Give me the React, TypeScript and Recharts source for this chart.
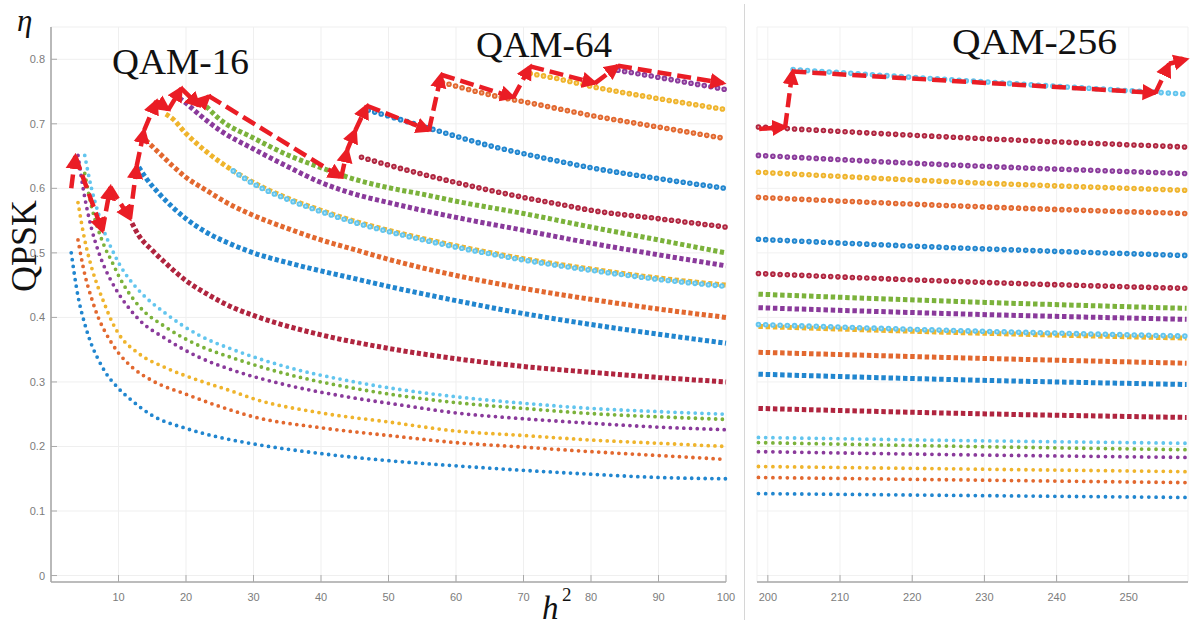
import { LineChart, Line, XAxis, YAxis, CartesianGrid } from 'recharts'

type Pt = [number, number]

// ---- left panel, h² from 0 to 100 ----
// QPSK ('*' markers)
const qpskBlue: Pt[] = [[3, 0.5], [4, 0.433], [5, 0.39], [6, 0.358], [7, 0.335], [8, 0.316], [10, 0.29], [12, 0.271], [15, 0.248], [20, 0.228], [25, 0.214], [30, 0.204], [40, 0.189], [50, 0.178], [60, 0.17], [70, 0.163], [80, 0.157], [90, 0.152], [100, 0.15]]
const qpskOrange: Pt[] = [[4, 0.52], [5, 0.467], [6, 0.43], [7, 0.4], [8, 0.378], [9, 0.36], [10, 0.345], [12, 0.323], [15, 0.302], [20, 0.281], [25, 0.262], [30, 0.246], [40, 0.229], [50, 0.217], [60, 0.206], [70, 0.199], [80, 0.192], [90, 0.186], [100, 0.18]]
const qpskYellow: Pt[] = [[4, 0.578], [5, 0.52], [6, 0.478], [7, 0.446], [8, 0.419], [9, 0.394], [10, 0.375], [13, 0.344], [17, 0.322], [22, 0.302], [27, 0.285], [30, 0.274], [40, 0.252], [50, 0.238], [60, 0.224], [70, 0.217], [80, 0.21], [90, 0.205], [100, 0.2]]
const qpskPurple: Pt[] = [[4, 0.651], [5, 0.586], [6, 0.538], [7, 0.503], [8, 0.476], [9, 0.455], [10, 0.437], [11, 0.422], [13, 0.397], [17, 0.367], [22, 0.338], [27, 0.318], [35, 0.295], [45, 0.275], [52, 0.264], [60, 0.252], [70, 0.243], [80, 0.236], [90, 0.23], [100, 0.226]]
const qpskGreen: Pt[] = [[5, 0.623], [6, 0.572], [7, 0.536], [8, 0.508], [9, 0.487], [10, 0.465], [13, 0.418], [17, 0.385], [22, 0.356], [27, 0.337], [35, 0.312], [45, 0.29], [60, 0.268], [70, 0.259], [80, 0.251], [90, 0.246], [100, 0.242]]
const qpskCyan: Pt[] = [[5, 0.651], [6, 0.6], [7, 0.562], [8, 0.53], [9, 0.506], [10, 0.485], [11, 0.468], [13, 0.442], [17, 0.406], [22, 0.372], [27, 0.35], [35, 0.323], [45, 0.3], [60, 0.277], [70, 0.267], [80, 0.259], [90, 0.254], [100, 0.25]]

// QAM-16 (triangles)
const q16Crimson: Pt[] = [[12, 0.546], [13, 0.527], [15, 0.504], [17, 0.484], [20, 0.457], [23, 0.437], [27, 0.415], [30, 0.403], [40, 0.373], [50, 0.352], [60, 0.336], [70, 0.324], [80, 0.315], [90, 0.307], [100, 0.3]]
const q16Blue: Pt[] = [[13, 0.633], [14, 0.617], [16, 0.592], [18, 0.571], [20, 0.553], [23, 0.532], [27, 0.512], [30, 0.5], [35, 0.485], [40, 0.472], [45, 0.46], [50, 0.448], [60, 0.426], [70, 0.406], [80, 0.389], [90, 0.374], [100, 0.36]]
const q16Orange: Pt[] = [[14, 0.675], [16, 0.655], [18, 0.635], [20, 0.617], [23, 0.597], [26, 0.578], [30, 0.558], [35, 0.538], [40, 0.52], [45, 0.505], [50, 0.49], [60, 0.465], [70, 0.445], [80, 0.428], [90, 0.413], [100, 0.4]]
const q16Yellow: Pt[] = [[17, 0.715], [18, 0.708], [20, 0.685], [23, 0.657], [26, 0.634], [30, 0.609], [35, 0.585], [40, 0.566], [45, 0.549], [50, 0.535], [60, 0.511], [70, 0.491], [80, 0.475], [90, 0.461], [100, 0.45]]
const q16Purple: Pt[] = [[19, 0.74], [20, 0.732], [22, 0.714], [25, 0.69], [30, 0.661], [35, 0.634], [40, 0.609], [45, 0.591], [50, 0.578], [55, 0.566], [60, 0.555], [70, 0.535], [80, 0.515], [90, 0.497], [100, 0.48]]
const q16Green: Pt[] = [[23, 0.727], [25, 0.707], [30, 0.678], [35, 0.652], [40, 0.632], [45, 0.614], [50, 0.601], [55, 0.591], [60, 0.58], [70, 0.561], [80, 0.54], [90, 0.52], [100, 0.5]]

// QAM-64 (circles)
const q64Cyan: Pt[] = [[27, 0.627], [30, 0.607], [35, 0.583], [40, 0.564], [45, 0.547], [50, 0.533], [60, 0.509], [70, 0.489], [80, 0.473], [90, 0.459], [100, 0.448]]
const q64Crimson: Pt[] = [[46, 0.648], [50, 0.636], [55, 0.622], [60, 0.609], [65, 0.597], [70, 0.586], [75, 0.576], [80, 0.566], [90, 0.553], [100, 0.54]]
const q64Blue: Pt[] = [[47, 0.721], [50, 0.712], [57, 0.69], [65, 0.666], [73, 0.647], [80, 0.632], [90, 0.615], [100, 0.6]]
const q64Orange: Pt[] = [[58, 0.764], [65, 0.745], [73, 0.728], [80, 0.713], [90, 0.695], [100, 0.677]]
const q64Yellow: Pt[] = [[71, 0.778], [75, 0.77], [80, 0.758], [90, 0.739], [100, 0.722]]
const q64Purple: Pt[] = [[84, 0.783], [90, 0.772], [100, 0.753]]

// best-scheme path (red dashed arrows)
const redLeft: Pt[] = [[3.0, 0.6], [3.6, 0.65], [7.6, 0.534], [8.8, 0.602], [11.7, 0.553], [12.7, 0.635], [13.8, 0.69], [15.6, 0.735], [17.4, 0.722], [19.3, 0.755], [21.9, 0.728], [23.4, 0.743], [43.0, 0.617], [43.9, 0.66], [45.1, 0.69], [46.8, 0.728], [56.0, 0.69], [57.8, 0.776], [68.5, 0.741], [71.0, 0.789], [80.6, 0.763], [84.0, 0.79], [99.6, 0.763]]

// ---- right panel, h² from 198.5 to 258 ----
const r256Blue: Pt[] = [[203.5, 0.784], [230, 0.765], [258, 0.746]]
const r256Orange: Pt[] = [[257.3, 0.8], [258, 0.8]]
const rQ64Crimson2: Pt[] = [[198.7, 0.695], [228, 0.678], [258, 0.664]]
const rQ64Purple: Pt[] = [[198.7, 0.651], [228, 0.635], [258, 0.623]]
const rQ64Yellow: Pt[] = [[198.7, 0.625], [228, 0.609], [258, 0.597]]
const rQ64Orange: Pt[] = [[198.7, 0.586], [228, 0.572], [258, 0.561]]
const rQ64Blue: Pt[] = [[198.7, 0.521], [228, 0.507], [258, 0.496]]
const rQ64Crimson: Pt[] = [[198.7, 0.468], [228, 0.455], [258, 0.445]]
const rQ16Green: Pt[] = [[198.7, 0.436], [228, 0.424], [258, 0.414]]
const rQ16Purple: Pt[] = [[198.7, 0.415], [228, 0.405], [258, 0.397]]
const rQ16Yellow: Pt[] = [[198.7, 0.386], [228, 0.376], [258, 0.368]]
const rQ64Cyan: Pt[] = [[198.7, 0.389], [228, 0.379], [258, 0.371]]
const rQ16Orange: Pt[] = [[198.7, 0.346], [228, 0.337], [258, 0.329]]
const rQ16Blue: Pt[] = [[198.7, 0.312], [228, 0.303], [258, 0.296]]
const rQ16Crimson: Pt[] = [[198.7, 0.259], [228, 0.251], [258, 0.245]]
const rQpskCyan: Pt[] = [[198.7, 0.214], [228, 0.209], [258, 0.205]]
const rQpskGreen: Pt[] = [[198.7, 0.206], [228, 0.2], [258, 0.195]]
const rQpskPurple: Pt[] = [[198.7, 0.192], [228, 0.187], [258, 0.183]]
const rQpskYellow: Pt[] = [[198.7, 0.169], [228, 0.165], [258, 0.161]]
const rQpskOrange: Pt[] = [[198.7, 0.152], [228, 0.148], [258, 0.144]]
const rQpskBlue: Pt[] = [[198.7, 0.127], [228, 0.124], [258, 0.121]]

const redRight: Pt[] = [[198.8, 0.692], [202.4, 0.695], [203.4, 0.781], [253.7, 0.748], [255.6, 0.793], [258.0, 0.8]]

// axes
const yTicks = [0, 0.1, 0.2, 0.3, 0.4, 0.5, 0.6, 0.7, 0.8]
const leftXTicks = [10, 20, 30, 40, 50, 60, 70, 80, 90, 100]
const leftTopTicks = [10, 20, 30, 40, 50, 60, 70, 80, 90]
const rightXTicks = [200, 210, 220, 230, 240, 250]

const C = {
  blue: '#2186cf',
  orange: '#e2682f',
  yellow: '#efb42c',
  purple: '#8a3a9b',
  green: '#7bb23b',
  cyan: '#62c5ee',
  crimson: '#b0253f',
  red: '#ea1d25',
}

type Kind = 'star' | 'tri' | 'circ'
type Series = { d: Pt[]; c: string; k: Kind }

const leftSeries: Series[] = [
  { d: qpskBlue, c: C.blue, k: 'star' },
  { d: qpskOrange, c: C.orange, k: 'star' },
  { d: qpskYellow, c: C.yellow, k: 'star' },
  { d: qpskPurple, c: C.purple, k: 'star' },
  { d: qpskGreen, c: C.green, k: 'star' },
  { d: qpskCyan, c: C.cyan, k: 'star' },
  { d: q16Crimson, c: C.crimson, k: 'tri' },
  { d: q16Blue, c: C.blue, k: 'tri' },
  { d: q16Orange, c: C.orange, k: 'tri' },
  { d: q16Yellow, c: C.yellow, k: 'tri' },
  { d: q16Purple, c: C.purple, k: 'tri' },
  { d: q16Green, c: C.green, k: 'tri' },
  { d: q64Cyan, c: C.cyan, k: 'circ' },
  { d: q64Crimson, c: C.crimson, k: 'circ' },
  { d: q64Blue, c: C.blue, k: 'circ' },
  { d: q64Orange, c: C.orange, k: 'circ' },
  { d: q64Yellow, c: C.yellow, k: 'circ' },
  { d: q64Purple, c: C.purple, k: 'circ' },
]

const rightSeries: Series[] = [
  { d: rQpskBlue, c: C.blue, k: 'star' },
  { d: rQpskOrange, c: C.orange, k: 'star' },
  { d: rQpskYellow, c: C.yellow, k: 'star' },
  { d: rQpskPurple, c: C.purple, k: 'star' },
  { d: rQpskGreen, c: C.green, k: 'star' },
  { d: rQpskCyan, c: C.cyan, k: 'star' },
  { d: rQ16Crimson, c: C.crimson, k: 'tri' },
  { d: rQ16Blue, c: C.blue, k: 'tri' },
  { d: rQ16Orange, c: C.orange, k: 'tri' },
  { d: rQ16Yellow, c: C.yellow, k: 'tri' },
  { d: rQ16Purple, c: C.purple, k: 'tri' },
  { d: rQ16Green, c: C.green, k: 'tri' },
  { d: rQ64Cyan, c: C.cyan, k: 'circ' },
  { d: rQ64Crimson, c: C.crimson, k: 'circ' },
  { d: rQ64Blue, c: C.blue, k: 'circ' },
  { d: rQ64Orange, c: C.orange, k: 'circ' },
  { d: rQ64Yellow, c: C.yellow, k: 'circ' },
  { d: rQ64Purple, c: C.purple, k: 'circ' },
  { d: rQ64Crimson2, c: C.crimson, k: 'circ' },
  { d: r256Blue, c: C.cyan, k: 'circ' },
  { d: r256Orange, c: C.orange, k: 'circ' },
]

const toRows = (d: Pt[]) => d.map(([x, v]) => ({ x, v }))

// markers are imitated with a dash pattern whose period is one h² step
function seriesLines(s: Series, i: number, step: number) {
  const common = {
    data: toRows(s.d),
    dataKey: 'v',
    type: 'monotone' as const,
    dot: false,
    activeDot: false,
    isAnimationActive: false,
    fill: 'none',
  }
  if (s.k === 'star') {
    return [
      <Line key={`s${i}`} {...common} stroke={s.c} strokeWidth={3.8} strokeLinecap="round" strokeDasharray={`0 ${step}`} />,
    ]
  }
  if (s.k === 'tri') {
    return [
      <Line key={`t${i}`} {...common} stroke={s.c} strokeWidth={5} strokeLinecap="butt" strokeDasharray={`${step * 0.62} ${step * 0.38}`} />,
    ]
  }
  return [
    <Line key={`c${i}`} {...common} stroke={s.c} strokeWidth={5.6} strokeLinecap="round" strokeDasharray={`0 ${step}`} />,
    <Line key={`ci${i}`} {...common} stroke="#ffffff" strokeOpacity={0.5} strokeWidth={2} strokeLinecap="round" strokeDasharray={`0 ${step}`} />,
  ]
}

function redArrows(path: Pt[], tag: string) {
  return path.slice(1).map((p, i) => (
    <Line
      key={`${tag}${i}`}
      data={toRows([path[i], p])}
      dataKey="v"
      type="linear"
      stroke={C.red}
      strokeWidth={4.5}
      strokeDasharray="14 6"
      markerEnd="url(#redArrow)"
      dot={false}
      activeDot={false}
      isAnimationActive={false}
    />
  ))
}

const tickFont = { fontFamily: 'Liberation Sans, Arial, sans-serif', fontSize: 11, fill: '#7c7c7c' }
const axisGray = '#a9a9a9'

function LeftTick({ x, y, payload }: any) {
  return (
    <g>
      <text x={x} y={y} dy={4} textAnchor="end" {...tickFont}>{payload.value}</text>
      <line x1={x + 6} y1={y} x2={x + 12} y2={y} stroke={axisGray} />
    </g>
  )
}

function BottomTick({ x, y, payload }: any) {
  return (
    <g>
      <text x={x} y={y} dy={9} textAnchor="middle" {...tickFont}>{payload.value}</text>
      <line x1={x} y1={y - 10} x2={x} y2={y - 17} stroke={axisGray} />
    </g>
  )
}

function TopTick({ x, y }: any) {
  return <line x1={x} y1={y} x2={x} y2={y + 6} stroke={axisGray} />
}

function RightTick({ x, y }: any) {
  return <line x1={x} y1={y} x2={x - 6} y2={y} stroke={axisGray} />
}

const yDomain: [number, number] = [-0.01, 0.85]

function LeftPanel() {
  return (
    <LineChart width={740} height={628} margin={{ top: 27, right: 14, bottom: 16, left: 11 }}>
      <CartesianGrid stroke="#efefef" />
      <XAxis type="number" dataKey="x" domain={[0, 100]} ticks={leftXTicks} height={30}
        tickSize={0} tickMargin={10} tick={<BottomTick />} axisLine={{ stroke: axisGray, strokeWidth: 1.6 }} />
      <XAxis xAxisId="top" orientation="top" type="number" dataKey="x" domain={[0, 100]} ticks={leftTopTicks}
        height={0} tickSize={0} tickMargin={0} tick={<TopTick />} axisLine={{ stroke: axisGray }} />
      <YAxis type="number" domain={yDomain} ticks={yTicks} width={40}
        tickSize={0} tickMargin={6} tick={<LeftTick />} axisLine={{ stroke: axisGray, strokeWidth: 1.6 }} />
      <YAxis yAxisId="right" orientation="right" type="number" domain={yDomain} ticks={yTicks} width={0}
        tickSize={0} tickMargin={0} tick={<RightTick />} axisLine={{ stroke: axisGray }} />
      {leftSeries.flatMap((s, i) => seriesLines(s, i, 6.74))}
      {redArrows(redLeft, 'rl')}
    </LineChart>
  )
}

function RightPanel() {
  return (
    <LineChart width={456} height={628} margin={{ top: 27, right: 8, bottom: 16, left: 17 }}>
      <CartesianGrid stroke="#f1f1f1" />
      <XAxis type="number" dataKey="x" domain={[198.5, 258.2]} ticks={rightXTicks} height={30}
        tickSize={0} tickMargin={10} tick={<BottomTick />} axisLine={{ stroke: axisGray, strokeWidth: 1.6 }} />
      <YAxis orientation="right" type="number" domain={yDomain} ticks={yTicks} width={0}
        tickSize={0} tickMargin={0} tick={<RightTick />} axisLine={{ stroke: axisGray }} />
      {rightSeries.flatMap((s, i) => seriesLines(s, i, 7.23))}
      {redArrows(redRight, 'rr')}
    </LineChart>
  )
}

const serif = 'Liberation Serif, Times New Roman, serif'

export default function App() {
  return (
    <div style={{ position: 'absolute', left: 0, top: 0, width: 1196, height: 628, background: '#fff', overflow: 'hidden' }}>
      <svg width={0} height={0} style={{ position: 'absolute' }}>
        <defs>
          <marker id="redArrow" viewBox="0 0 10 10" refX="8" refY="5" markerWidth="3.6" markerHeight="3.8"
            orient="auto" markerUnits="strokeWidth">
            <path d="M0,0 L10,5 L0,10 z" fill={C.red} />
          </marker>
        </defs>
      </svg>
      <div style={{ position: 'absolute', left: 0, top: 0 }}>
        <LeftPanel />
      </div>
      <div style={{ position: 'absolute', left: 744, top: 4, width: 1, height: 616, background: '#d6d6d6' }} />
      <div style={{ position: 'absolute', left: 740, top: 0 }}>
        <RightPanel />
      </div>
      <svg width={1196} height={628} style={{ position: 'absolute', left: 0, top: 0, pointerEvents: 'none' }}>
        <text x={17} y={31} fontFamily={serif} fontStyle="italic" fontSize={31} fill="#111">η</text>
        <text x={36} y={246} transform="rotate(-90 36 246)" textAnchor="middle" fontFamily={serif} fontSize={36} fill="#111">QPSK</text>
        <text x={112} y={74} fontFamily={serif} fontSize={35} textLength={137} lengthAdjust="spacingAndGlyphs" fill="#111">QAM-16</text>
        <text x={476} y={57} fontFamily={serif} fontSize={35} textLength={136} lengthAdjust="spacingAndGlyphs" fill="#111">QAM-64</text>
        <text x={952} y={54} fontFamily={serif} fontSize={35} textLength={165} lengthAdjust="spacingAndGlyphs" fill="#111">QAM-256</text>
        <text x={542} y={619} fontFamily={serif} fontStyle="italic" fontSize={33} fill="#111">h</text>
        <text x={562} y={601} fontFamily={serif} fontSize={19} fill="#111">2</text>
      </svg>
    </div>
  )
}
